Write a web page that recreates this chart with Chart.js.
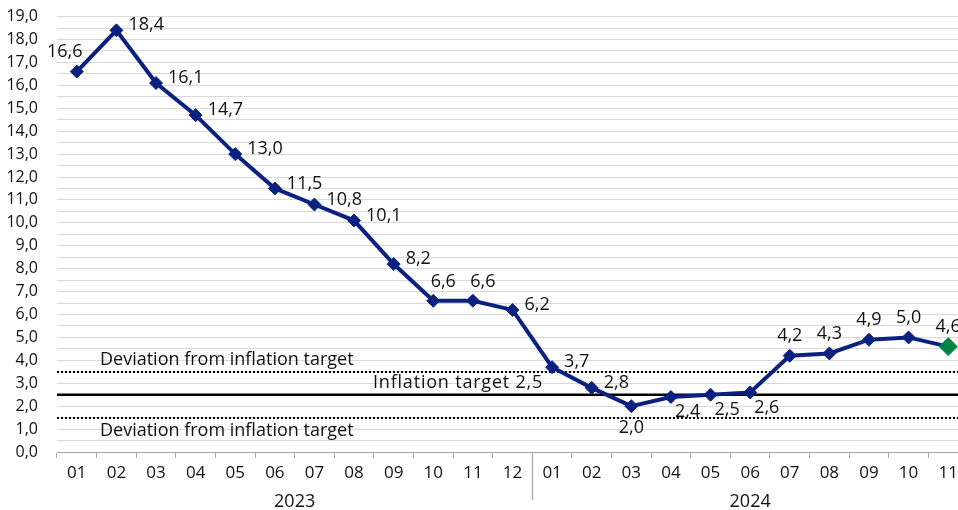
<!DOCTYPE html>
<html>
<head>
<meta charset="utf-8">
<script src="https://cdn.jsdelivr.net/npm/chart.js@4.4.1/dist/chart.umd.min.js"></script>
<style>
  html, body { margin: 0; padding: 0; background: #fff; overflow: hidden; }
  #chart { display: block; }
</style>
</head>
<body>
<canvas id="chart" width="968" height="510"></canvas>
<script>
// monthly inflation, % y/y
const months = ['01','02','03','04','05','06','07','08','09','10','11','12',
                '01','02','03','04','05','06','07','08','09','10','11'];
const years = ['2023', '2024'];
const yearLengths = [12, 11];
const inflation = [16.6, 18.4, 16.1, 14.7, 13.0, 11.5, 10.8, 10.1, 8.2, 6.6, 6.6, 6.2,
                   3.7, 2.8, 2.0, 2.4, 2.5, 2.6, 4.2, 4.3, 4.9, 5.0, 4.6];
const target = 2.5;
const deviationUpper = 3.5;
const deviationLower = 1.5;

// where each value label sits relative to its point
const labelPlace = ['al','r','r','r','r','r','r','r','r','ar','ar','r',
                    'r','r','b','br','br','br','a','a','a','a','a'];

const NAVY = '#0b2180';
const GREEN = '#00843f';
const FONT = "'Open Sans', sans-serif";

const fmt = v => v.toFixed(1).replace('.', ',');

const lastIdx = inflation.length - 1;

const overlay = {
  id: 'overlay',
  beforeDatasetsDraw(chart) {
    const { ctx, chartArea: a, scales: { y } } = chart;
    ctx.save();
    // target band lines
    ctx.strokeStyle = '#000';
    ctx.lineWidth = 2;
    ctx.setLineDash([2, 2]);
    [deviationUpper, deviationLower].forEach(v => {
      const py = Math.round(y.getPixelForValue(v));
      ctx.beginPath(); ctx.moveTo(a.left, py); ctx.lineTo(a.right, py); ctx.stroke();
    });
    ctx.setLineDash([]);
    ctx.lineWidth = 2.5;
    const ty = y.getPixelForValue(target);
    ctx.beginPath(); ctx.moveTo(a.left, ty); ctx.lineTo(a.right, ty); ctx.stroke();

    ctx.fillStyle = '#111';
    ctx.font = '18px ' + FONT;
    ctx.textBaseline = 'middle';
    ctx.textAlign = 'left';
    ctx.fillText('Deviation from inflation target', a.left + 43, y.getPixelForValue(deviationUpper) - 12);
    ctx.fillText('Deviation from inflation target', a.left + 43, y.getPixelForValue(deviationLower) + 13);
    ctx.letterSpacing = '0.8px';
    ctx.fillText('Inflation target ' + fmt(target), a.left + 316, ty - 12);
    ctx.restore();
  },
  afterDatasetsDraw(chart) {
    const { ctx } = chart;
    const pts = chart.getDatasetMeta(0).data;
    ctx.save();
    ctx.fillStyle = '#111';
    ctx.font = '18px ' + FONT;
    ctx.textBaseline = 'middle';
    pts.forEach((p, i) => {
      const t = fmt(inflation[i]);
      let x = p.x, yy = p.y;
      switch (labelPlace[i]) {
        case 'r':  ctx.textAlign = 'left';   x += 12; yy -= 5; break;
        case 'ar': ctx.textAlign = 'center'; x += 10; yy -= 19; break;
        case 'a':  ctx.textAlign = 'center'; yy -= 20; break;
        case 'al': ctx.textAlign = 'center'; x -= 12; yy -= 20; break;
        case 'b':  ctx.textAlign = 'center'; yy += 22; break;
        case 'br': ctx.textAlign = 'left';   x += 4; yy += 15; break;
      }
      ctx.fillText(t, x, yy);
    });
    ctx.restore();
  },
  afterDraw(chart) {
    const { ctx, chartArea: a, scales: { x } } = chart;
    ctx.save();
    // year separator and year captions
    let start = 0;
    ctx.fillStyle = '#111';
    ctx.font = '18px ' + FONT;
    ctx.textAlign = 'center';
    ctx.textBaseline = 'middle';
    years.forEach((yr, k) => {
      const end = start + yearLengths[k] - 1;
      const cx = (x.getPixelForValue(start) + x.getPixelForValue(end)) / 2;
      ctx.fillText(yr, cx, 502);
      if (k > 0) {
        const sx = Math.round((x.getPixelForValue(start - 1) + x.getPixelForValue(start)) / 2) + 0.5;
        ctx.strokeStyle = '#b0b0b0';
        ctx.lineWidth = 1.5;
        ctx.beginPath(); ctx.moveTo(sx, a.bottom); ctx.lineTo(sx, 500); ctx.stroke();
      }
      start = end + 1;
    });
    ctx.restore();
  }
};

new Chart(document.getElementById('chart'), {
  type: 'line',
  data: {
    labels: months,
    datasets: [{
      data: inflation,
      borderColor: NAVY,
      borderWidth: 4,
      pointStyle: 'rectRot',
      pointRadius: inflation.map((v, i) => i === lastIdx ? 9 : 6.5),
      pointBackgroundColor: inflation.map((v, i) => i === lastIdx ? GREEN : NAVY),
      pointBorderColor: inflation.map((v, i) => i === lastIdx ? GREEN : NAVY),
      pointBorderWidth: 1,
      tension: 0,
      clip: false,
    }],
  },
  options: {
    responsive: false,
    animation: false,
    layout: { autoPadding: false, padding: { top: 12, left: 0, right: 0, bottom: 0 } },
    plugins: {
      legend: { display: false },
      tooltip: { enabled: false },
    },
    scales: {
      x: {
        offset: true,
        grid: { offset: true, drawOnChartArea: false, drawTicks: true, tickLength: 6, color: '#a6a6a6' },
        border: { color: '#a6a6a6', width: 1 },
        ticks: { color: '#111', font: { family: FONT, size: 17 }, padding: 5, autoSkip: false, maxRotation: 0 },
        afterFit(scale) { scale.height = 58; },
      },
      y: {
        min: 0,
        max: 19,
        grid: { color: '#d9d9d9', lineWidth: 1, drawTicks: true, tickLength: 12, tickColor: 'rgba(0,0,0,0)' },
        border: { display: false },
        ticks: {
          stepSize: 0.5,
          autoSkip: false,
          padding: 7,
          color: '#111',
          font: { family: FONT, size: 16 },
          callback: v => (Math.abs(v % 1) < 1e-9 ? fmt(v) : ''),
        },
        afterFit(scale) { scale.width = 57; },
      },
    },
  },
  plugins: [overlay],
});
</script>
</body>
</html>
